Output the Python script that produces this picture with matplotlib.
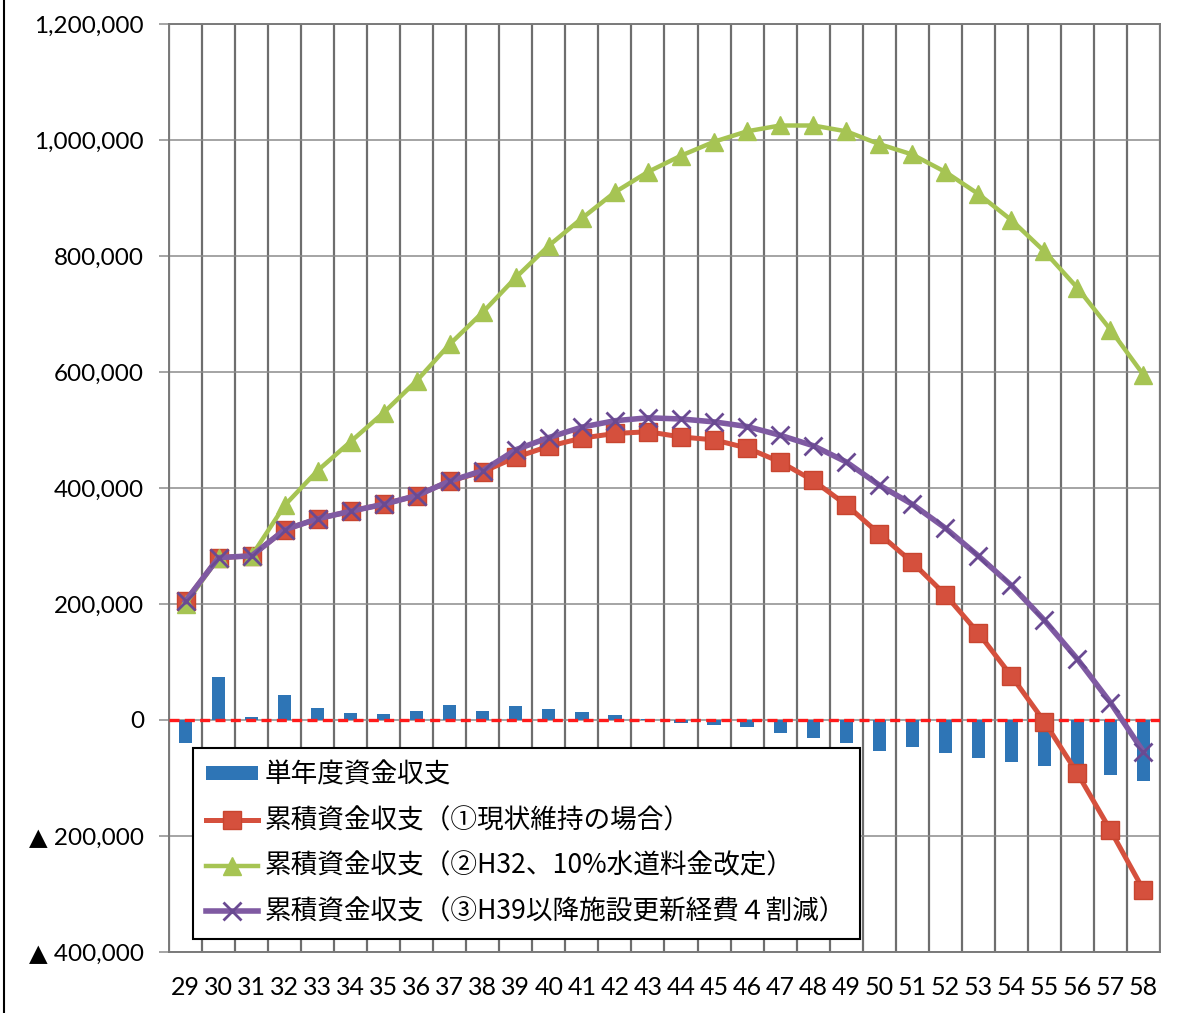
import matplotlib
matplotlib.use("Agg")
import matplotlib.pyplot as plt
from matplotlib.lines import Line2D
import numpy as np

# ---- data (values in yen thousands) ----
years = list(range(29, 59))
year_labels = [str(y) for y in years]
annual = [-40000, 74000, 6000, 43000, 21000, 12000, 11000, 16000, 26000, 16000,
          25000, 19000, 13000, 8000, 2000, -5000, -8000, -12000, -22000, -31000,
          -40000, -53000, -46000, -57000, -65000, -73000, -80000, -86000, -95000, -105000]
cum_current = [205000, 280000, 283000, 328000, 347000, 360000, 372000, 387000, 412000, 428000,
               453000, 472000, 486000, 494000, 497000, 488000, 483000, 469000, 445000, 413000,
               371000, 321000, 272000, 216000, 150000, 76000, -3000, -92000, -190000, -293000]
cum_rate = [200000, 280000, 283000, 370000, 430000, 480000, 530000, 585000, 648000, 703000,
            763000, 818000, 865000, 910000, 945000, 973000, 997000, 1015000, 1025000, 1025000,
            1015000, 993000, 975000, 945000, 907000, 862000, 808000, 745000, 673000, 595000]
cum_cut = [205000, 280000, 283000, 328000, 347000, 360000, 372000, 387000, 412000, 430000,
           466000, 487000, 505000, 516000, 521000, 519000, 514000, 506000, 491000, 473000,
           445000, 405000, 372000, 331000, 283000, 232000, 172000, 105000, 30000, -55000]

yticks = [-400000, -200000, 0, 200000, 400000, 600000, 800000, 1000000, 1200000]
ytick_labels = ["▲ 400,000", "▲ 200,000", "0", "200,000", "400,000", "600,000",
                "800,000", "1,000,000", "1,200,000"]

labels = ["単年度資金収支",
          "累積資金収支（①現状維持の場合）",
          "累積資金収支（②H32、10%水道料金改定）",
          "累積資金収支（③H39以降施設更新経費４割減）"]

# ---- figure ----
fig = plt.figure(figsize=(11.87, 10.13), dpi=100)
ax = fig.add_axes([169/1187, 61/1013, (1160-169)/1187, (952-24)/1013])

x = np.arange(len(years))
ax.set_xlim(-0.5, len(years) - 0.5)
ax.set_ylim(-400000, 1200000)

# grid
for b in np.arange(-0.5, len(years), 1.0):
    ax.axvline(b, color="#6e6e6e", lw=1.6, zorder=1)
for t in yticks:
    ax.axhline(t, color="#8c8c8c", lw=1.1, zorder=1)

bars = ax.bar(x, annual, width=0.4, color="#2E75B6", zorder=2, label=labels[0])
ax.axhline(0, color="#FF1A1A", lw=2.4, ls=(0, (3, 1.6)), zorder=3)

l1, = ax.plot(x, cum_current, color="#D5503D", lw=3.6, marker="s", ms=13,
              mfc="#D5503D", mec="#C8452F", zorder=4, label=labels[1])
l2, = ax.plot(x, cum_rate, color="#A6C453", lw=3.2, marker="^", ms=13,
              mfc="#A6C453", mec="#A6C453", zorder=5, label=labels[2])
l3, = ax.plot(x, cum_cut, color="#7F5AA2", lw=4.0, marker="x", ms=13, mew=2.0,
              mec="#6A4A92", zorder=6, label=labels[3])

tick_font = ["Lato", "DejaVu Sans"]
ax.set_yticks(yticks)
ax.set_yticklabels(ytick_labels, family=tick_font, fontsize=17.5)
ax.set_xticks(x)
ax.set_xticklabels(year_labels, family=tick_font, fontsize=18)
ax.tick_params(axis="y", length=7, width=1.1, color="#8c8c8c", pad=11)
ax.tick_params(axis="x", length=0, pad=17)
for s in ax.spines.values():
    s.set_color("#7a7a7a")
    s.set_linewidth(1.4)

leg = ax.legend(handles=[bars, l1, l2, l3], labels=labels,
                loc="upper left", bbox_to_anchor=(0.0242, 0.2198),
                borderaxespad=0, fancybox=False, framealpha=1,
                edgecolor="black", prop={"family": ["Noto Sans CJK JP", "DejaVu Sans"], "size": 19.2},
                handlelength=1.95, handleheight=0.4, handletextpad=0.25,
                labelspacing=0.7, borderpad=0.5)
leg.get_frame().set_linewidth(1.5)
leg.set_zorder(10)

# left border line of the figure
fig.add_artist(Line2D([4/1187, 4/1187], [0, 1], color="black", lw=1.5))

fig.savefig("out.png", dpi=100, facecolor="white")
